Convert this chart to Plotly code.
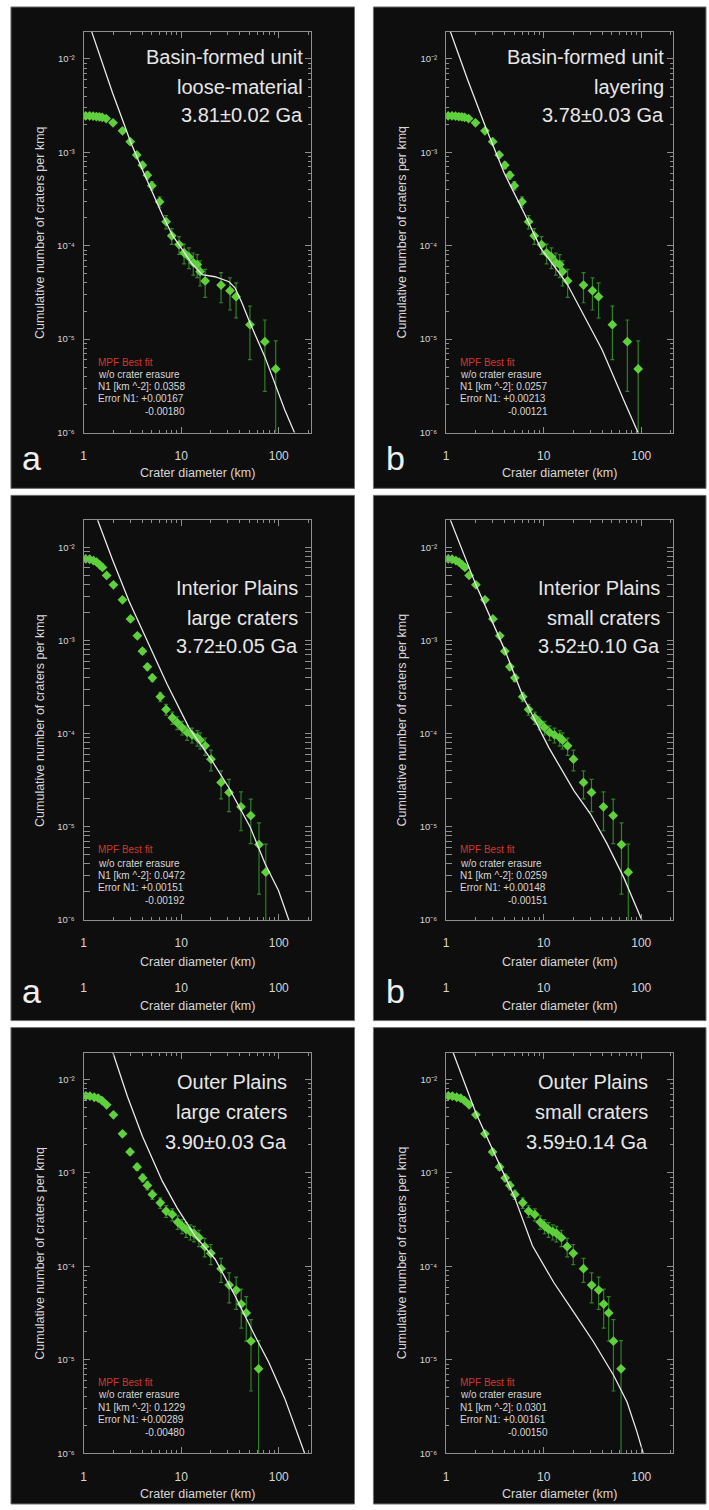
import plotly.graph_objects as go

W, H = 709, 1510

# ---------------- data ----------------
# Row 1: Basin-formed unit (same crater counts in both panels)
basin_D = [1.05, 1.15, 1.25, 1.35, 1.45, 1.55, 1.7, 2.0, 2.5, 3.0, 3.5, 4.0, 4.5, 5.0,
           6.0, 7.0, 8.0, 9.5, 10.7, 12.0, 13.3, 14.6, 15.6, 17.6, 25.6, 31.6, 36.5,
           50.6, 72.0, 93.0]
basin_N = [2.46e-3, 2.46e-3, 2.44e-3, 2.42e-3, 2.40e-3, 2.37e-3, 2.30e-3, 2.07e-3, 1.70e-3,
           1.30e-3, 9.4e-4, 7.3e-4, 5.7e-4, 4.4e-4, 2.96e-4, 1.81e-4, 1.28e-4, 1.03e-4,
           8.4e-5, 7.6e-5, 6.6e-5, 6.3e-5, 5.3e-5, 4.2e-5, 3.8e-5, 3.3e-5, 2.85e-5,
           1.43e-5, 9.4e-6, 4.8e-6]
basin_relerr = [0.044, 0.044, 0.044, 0.044, 0.045, 0.045, 0.046, 0.048, 0.053, 0.061, 0.071,
                0.081, 0.091, 0.104, 0.127, 0.162, 0.193, 0.215, 0.238, 0.25, 0.267, 0.277,
                0.30, 0.333, 0.354, 0.378, 0.408, 0.577, 0.707, 1.0]

# Row 2: Interior Plains
interior_D = [1.05, 1.15, 1.26, 1.36, 1.46, 1.56, 1.72, 2.02, 2.5, 3.02, 3.55, 4.0, 4.5, 5.06,
              6.1, 7.0, 8.1, 9.1, 10.2, 11.5, 12.9, 14.6, 15.6, 17.6, 20.2, 25.6, 30.9,
              41.0, 51.6, 62.7, 73.6]
interior_N = [7.5e-3, 7.44e-3, 7.2e-3, 6.92e-3, 6.48e-3, 6.07e-3, 4.98e-3, 3.95e-3, 2.73e-3,
              1.70e-3, 1.12e-3, 7.67e-4, 5.21e-4, 3.97e-4, 2.49e-4, 1.82e-4, 1.48e-4, 1.31e-4,
              1.16e-4, 1.03e-4, 9.7e-5, 9.06e-5, 8.5e-5, 7.4e-5, 5.31e-5, 2.99e-5, 2.34e-5,
              1.64e-5, 1.32e-5, 6.45e-6, 3.26e-6]
interior_relerr = [0.021, 0.021, 0.021, 0.022, 0.022, 0.023, 0.026, 0.029, 0.035, 0.044, 0.054,
                   0.065, 0.079, 0.091, 0.115, 0.134, 0.149, 0.158, 0.167, 0.177, 0.183, 0.189,
                   0.196, 0.209, 0.25, 0.333, 0.378, 0.447, 0.5, 0.707, 1.0]

# Row 3: Outer Plains
outer_D = [1.055, 1.16, 1.285, 1.41, 1.54, 1.72, 2.02, 2.5, 2.99, 3.53, 4.03, 4.5, 5.06, 6.1,
           7.0, 8.1, 9.2, 10.2, 11.2, 12.4, 13.5, 15.2, 17.4, 20.1, 25.6, 31.0, 36.6, 41.2,
           46.4, 51.9, 62.1]
outer_N = [6.7e-3, 6.65e-3, 6.47e-3, 6.32e-3, 5.97e-3, 5.37e-3, 4.2e-3, 2.63e-3, 1.68e-3,
           1.16e-3, 8.86e-4, 7.35e-4, 5.89e-4, 4.8e-4, 3.91e-4, 3.6e-4, 2.98e-4, 2.7e-4,
           2.49e-4, 2.35e-4, 2.26e-4, 2.03e-4, 1.63e-4, 1.38e-4, 9.46e-5, 6.3e-5, 5.57e-5,
           3.95e-5, 3.17e-5, 1.58e-5, 8.0e-6]
outer_relerr = [0.035, 0.035, 0.035, 0.036, 0.037, 0.039, 0.044, 0.055, 0.069, 0.083, 0.095,
                0.104, 0.116, 0.129, 0.143, 0.149, 0.164, 0.172, 0.179, 0.185, 0.189, 0.20,
                0.224, 0.243, 0.289, 0.354, 0.378, 0.447, 0.5, 0.707, 1.0]

# Best-fit (MPF) curves
fit_loose_D = [1.21, 1.56, 1.98, 2.50, 3.02, 4.0, 5.06, 6.4, 8.09, 10.2, 12.9, 16.4, 22.2,
               30.9, 35.6, 41.9, 50.6, 71.9, 91.0, 115.0, 146.0]
fit_loose_N = [1.95e-2, 8.85e-3, 4.33e-3, 2.23e-3, 1.30e-3, 6.5e-4, 3.69e-4, 2.15e-4, 1.31e-4,
               9.06e-5, 6.42e-5, 4.9e-5, 4.66e-5, 4.12e-5, 3.55e-5, 2.45e-5, 1.5e-5, 6.5e-6,
               3.43e-6, 1.76e-6, 9.8e-7]
fit_layer_D = [1.106, 1.665, 2.56, 3.94, 6.30, 9.32, 17.2, 26.2, 39.7, 65.9, 93.8]
fit_layer_N = [1.96e-2, 5.96e-3, 1.82e-3, 6.0e-4, 2.24e-4, 9.44e-5, 3.99e-5, 1.75e-5, 7.7e-6,
               2.25e-6, 9.7e-7]
fit_intlarge_D = [1.39, 1.98, 2.93, 4.50, 7.19, 12.0, 20.7, 30.7, 51.0, 72.4, 99.3, 127.0]
fit_intlarge_N = [1.96e-2, 7.31e-3, 2.62e-3, 9.64e-4, 3.37e-4, 1.16e-4, 5.1e-5, 2.64e-5,
                  9.9e-6, 4.0e-6, 2.07e-6, 9.9e-7]
fit_intsmall_D = [1.106, 2.02, 4.03, 6.15, 11.3, 14.9, 20.4, 30.2, 44.7, 65.9, 101.6]
fit_intsmall_N = [1.96e-2, 3.95e-3, 7.73e-4, 2.49e-4, 7.08e-5, 4.33e-5, 2.44e-5, 1.37e-5,
                  6.55e-6, 2.88e-6, 9.9e-7]
fit_outlarge_D = [1.98, 2.81, 4.0, 5.06, 6.4, 9.1, 13.9, 22.2, 35.6, 56.9, 79.1, 115.0, 184.0]
fit_outlarge_N = [1.99e-2, 6.59e-3, 2.47e-3, 1.40e-3, 8.17e-4, 4.21e-4, 2.11e-4, 1.2e-4,
                  4.84e-5, 1.81e-5, 9.35e-6, 3.86e-6, 1.0e-6]
fit_outsmall_D = [1.17, 2.02, 3.11, 4.98, 7.67, 10.5, 12.7, 20.4, 32.6, 52.2, 71.5, 90.4, 105.0]
fit_outsmall_N = [1.99e-2, 4.38e-3, 1.64e-3, 5.65e-4, 1.66e-4, 9.33e-5, 6.72e-5, 3.21e-5,
                  1.54e-5, 6.79e-6, 3.53e-6, 1.69e-6, 9.9e-7]

# Text
titles = [
    ["Basin-formed unit", "loose-material", "3.81±0.02 Ga"],
    ["Basin-formed unit", "layering", "3.78±0.03 Ga"],
    ["Interior Plains", "large craters", "3.72±0.05 Ga"],
    ["Interior Plains", "small craters", "3.52±0.10 Ga"],
    ["Outer Plains", "large craters", "3.90±0.03 Ga"],
    ["Outer Plains", "small craters", "3.59±0.14 Ga"],
]
n1_values = ["0.0358", "0.0257", "0.0472", "0.0259", "0.1229", "0.0301"]
err_plus = ["+0.00167", "+0.00213", "+0.00151", "+0.00148", "+0.00289", "+0.00161"]
err_minus = ["-0.00180", "-0.00121", "-0.00192", "-0.00151", "-0.00480", "-0.00150"]
panel_labels = ["a", "b", "a", "b", "", ""]
x_ticks = [1, 10, 100]
x_ticktext = ["1", "10", "100"]
y_ticks = [1e-6, 1e-5, 1e-4, 1e-3, 1e-2]
y_ticktext = ["10⁻⁶", "10⁻⁵", "10⁻⁴", "10⁻³", "10⁻²"]
minor_x = [2, 3, 4, 5, 6, 7, 8, 9, 20, 30, 40, 50, 60, 70, 80, 90, 200]
minor_y = [k * 10.0 ** e for e in range(-6, -1) for k in range(2, 10)]
x_title = "Crater diameter (km)"
y_title = "Cumulative number of craters per kmq"

data_sets = [(basin_D, basin_N, basin_relerr), (basin_D, basin_N, basin_relerr),
             (interior_D, interior_N, interior_relerr), (interior_D, interior_N, interior_relerr),
             (outer_D, outer_N, outer_relerr), (outer_D, outer_N, outer_relerr)]
fits = [(fit_loose_D, fit_loose_N), (fit_layer_D, fit_layer_N),
        (fit_intlarge_D, fit_intlarge_N), (fit_intsmall_D, fit_intsmall_N),
        (fit_outlarge_D, fit_outlarge_N), (fit_outsmall_D, fit_outsmall_N)]

# ---------------- layout geometry (pixels) ----------------
FONT = "Liberation Sans, Arial, Helvetica, sans-serif"
NARROW = "Liberation Sans Narrow, Arial Narrow, Liberation Sans, Arial, sans-serif"
BG = "#0e0e0e"
AX = "#8e8e8e"
TXT = "#d6d6d6"
GREEN = "#5fd03c"
EGREEN = "#2f7f27"
RED = "#d0372c"

rows = [
    dict(panel=(7, 490), plot=(32, 434), title_y=[57, 87, 115],
         info_y=[363.3, 376, 388, 400, 413.3], xtitle_y=[475], label_y=460, dup_axis=None),
    dict(panel=(497, 1024), plot=(522, 923), title_y=[590, 620, 648],
         info_y=[852.7, 866, 878, 890, 903.3], xtitle_y=[965, 1009], label_y=994, dup_axis=970),
    dict(panel=(1031, 1509), plot=(1056, 1458), title_y=[1086, 1116, 1146],
         info_y=[1386.7, 1399.3, 1412.3, 1424.3, 1437.3], xtitle_y=[1499], label_y=None, dup_axis=None),
]
cols = [
    dict(panel=(8, 353), plot=(81, 309), info_x=93, info_x2=141, ytitle_x=37, label_x=28.5),
    dict(panel=(372, 706), plot=(445, 673), info_x=457, info_x2=505, ytitle_x=401, label_x=394.5),
]
title_right = [303, 666, 298, 662, 287, 650]


def fx(p):
    return p / W


def fy(p):
    return 1 - p / H


fig = go.Figure()
layout = dict(width=W, height=H, margin=dict(l=0, r=0, t=0, b=0),
              paper_bgcolor="white", plot_bgcolor="rgba(0,0,0,0)",
              showlegend=False, font=dict(family=FONT, size=12, color=TXT),
              shapes=[], annotations=[])

for i in range(6):
    r, c = rows[i // 2], cols[i % 2]
    k = i + 1
    xa, ya = f"x{k}", f"y{k}"
    D, N, rel = data_sets[i]
    fD, fN = fits[i]

    # panel background
    layout["shapes"].append(dict(type="rect", xref="paper", yref="paper", layer="below",
                                 x0=fx(c["panel"][0]), x1=fx(c["panel"][1]),
                                 y0=fy(r["panel"][1]), y1=fy(r["panel"][0]),
                                 fillcolor=BG, line=dict(color="#707070", width=1)))

    ep = [n * e for n, e in zip(N, rel)]
    em = [n * min(e, 0.9999) for n, e in zip(N, rel)]
    fig.add_trace(go.Scatter(x=D, y=N, mode="markers", xaxis=xa, yaxis=ya,
                             marker=dict(symbol="diamond", size=7.5, color=GREEN, line=dict(width=0)),
                             error_y=dict(type="data", symmetric=False, array=ep, arrayminus=em,
                                          color=EGREEN, thickness=1.2, width=2),
                             hoverinfo="skip"))
    fig.add_trace(go.Scatter(x=fD, y=fN, mode="lines", xaxis=xa, yaxis=ya,
                             line=dict(color="#e8e8e8", width=1.3), hoverinfo="skip"))

    axname = "xaxis" if k == 1 else f"xaxis{k}"
    ayname = "yaxis" if k == 1 else f"yaxis{k}"
    layout[axname] = dict(type="log", range=[0, 2.327], anchor=ya,
                          domain=[fx(c["plot"][0]), fx(c["plot"][1])],
                          showline=True, linecolor=AX, linewidth=1, mirror="allticks",
                          ticks="inside", ticklen=6, tickwidth=1, tickcolor=AX,
                          tickvals=x_ticks, ticktext=x_ticktext,
                          tickfont=dict(family=FONT, size=12, color=TXT),
                          ticklabelstandoff=12, showgrid=False, zeroline=False,
                          minor=dict(tickvals=minor_x, ticks="inside", ticklen=3,
                                     tickcolor=AX, tickwidth=1, showgrid=False))
    layout[ayname] = dict(type="log", range=[-6, -1.71], anchor=xa,
                          domain=[fy(r["plot"][1]), fy(r["plot"][0])],
                          showline=True, linecolor=AX, linewidth=1, mirror="allticks",
                          ticks="inside", ticklen=6, tickwidth=1, tickcolor=AX,
                          tickvals=y_ticks, ticktext=y_ticktext,
                          tickfont=dict(family=FONT, size=9.5, color=TXT),
                          ticklabelstandoff=6, showgrid=False, zeroline=False,
                          minor=dict(tickvals=minor_y, ticks="inside", ticklen=3,
                                     tickcolor=AX, tickwidth=1, showgrid=False))

    # duplicate tick-label row (second row of panels)
    if r["dup_axis"] is not None:
        kd = k + 6
        fig.add_trace(go.Scatter(x=[], y=[], xaxis=f"x{kd}", yaxis=ya, hoverinfo="skip"))
        layout[f"xaxis{kd}"] = dict(type="log", range=[0, 2.327], overlaying=xa,
                                    anchor="free", position=fy(r["dup_axis"]),
                                    showline=False, ticks="", tickvals=x_ticks,
                                    ticktext=x_ticktext, showgrid=False, zeroline=False,
                                    tickfont=dict(family=FONT, size=12, color=TXT),
                                    ticklabelstandoff=12)

    # title block
    for line, ty in zip(titles[i], r["title_y"]):
        layout["annotations"].append(dict(xref="paper", yref="paper", x=fx(title_right[i]),
                                          y=fy(ty), xanchor="right", yanchor="middle",
                                          text=line, showarrow=False,
                                          font=dict(family=FONT, size=20, color="#e6e6e6")))
    # info block
    info = [("MPF Best fit", RED, c["info_x"]),
            ("w/o crater erasure", TXT, c["info_x"]),
            (f"N1 [km ^-2]: {n1_values[i]}", TXT, c["info_x"]),
            (f"Error N1: {err_plus[i]}", TXT, c["info_x"]),
            (err_minus[i], TXT, c["info_x2"])]
    for (txt, col, xx), yy in zip(info, r["info_y"]):
        layout["annotations"].append(dict(xref="paper", yref="paper", x=fx(xx), y=fy(yy),
                                          xanchor="left", yanchor="middle", text=txt,
                                          showarrow=False,
                                          font=dict(family=FONT, size=10, color=col)))
    # axis titles
    pc = (c["plot"][0] + c["plot"][1]) / 2
    for ty in r["xtitle_y"]:
        layout["annotations"].append(dict(xref="paper", yref="paper", x=fx(pc), y=fy(ty),
                                          xanchor="center", yanchor="middle", text=x_title,
                                          showarrow=False,
                                          font=dict(family=FONT, size=12.5, color=TXT)))
    layout["annotations"].append(dict(xref="paper", yref="paper", x=fx(c["ytitle_x"]),
                                      y=fy((r["plot"][0] + r["plot"][1]) / 2),
                                      xanchor="center", yanchor="middle", textangle=-90,
                                      text=y_title, showarrow=False,
                                      font=dict(family=FONT, size=12.5, color=TXT)))
    if panel_labels[i] and r["label_y"] is not None:
        layout["annotations"].append(dict(xref="paper", yref="paper", x=fx(c["label_x"]),
                                          y=fy(r["label_y"]), xanchor="center",
                                          yanchor="middle", text=panel_labels[i],
                                          showarrow=False,
                                          font=dict(family=NARROW, size=34, color="#f0f0f0")))

fig.update_layout(**layout)
fig.write_html("out.html")
